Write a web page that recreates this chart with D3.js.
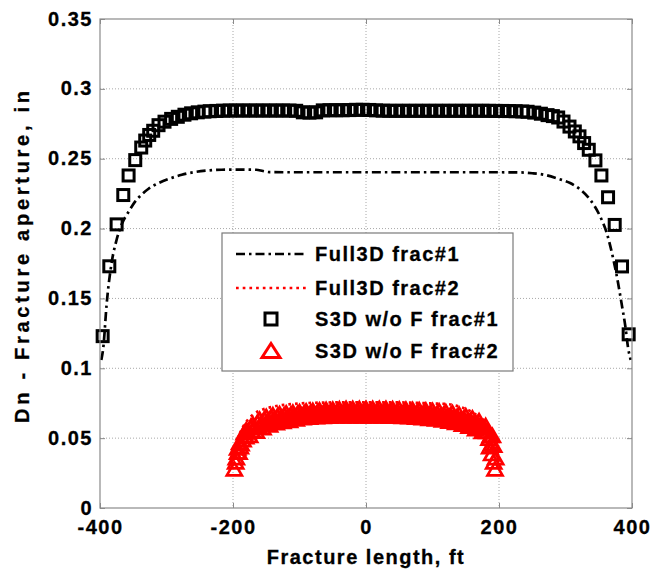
<!DOCTYPE html>
<html><head><meta charset="utf-8">
<script src="https://cdn.jsdelivr.net/npm/d3@7"></script>
<style>
body{margin:0;background:#fff;}
text{font-family:"Liberation Sans",Arial,sans-serif;font-weight:bold;fill:#000;stroke:#000;stroke-width:0.3px;}
</style></head>
<body><svg id="chart" width="652" height="574"></svg>
<script>
const xTicks = [-400,-200,0,200,400];
const xTickLabels = ["-400","-200","0","200","400"];
const yTicks = [0,0.05,0.1,0.15,0.2,0.25,0.3,0.35];
const yTickLabels = ["0","0.05","0.1","0.15","0.2","0.25","0.3","0.35"];
const seriesNames = ["Full3D frac#1","Full3D frac#2","S3D w/o F frac#1","S3D w/o F frac#2"];

const full3dFrac1X = [-398,-395,-390,-382,-375,-367,-357,-347,-337,-327,-312,-297,-277,-257,-237,-217,-190,-165,-155,-145,-100,-50,0,50,100,150,200,230,250,267,290,307,322,337,352,362,372,379,385,390,394,398];
const full3dFrac1Y = [0.106,0.115,0.146,0.177,0.192,0.2035,0.212,0.2195,0.2245,0.2285,0.2325,0.2355,0.2385,0.2405,0.2416,0.2421,0.2422,0.2421,0.2412,0.2404,0.2403,0.2403,0.2403,0.2403,0.2403,0.2403,0.2403,0.2402,0.2396,0.2386,0.2355,0.2326,0.2280,0.2207,0.2088,0.1969,0.1779,0.1612,0.1445,0.1300,0.1150,0.1060];

const full3dFrac2X = [-200,-197,-192,-185,-178,-168,-155,-140,-120,-100,-60,0,60,100,120,141,159,169,176,185,192,197,200];
const full3dFrac2Y = [0.030,0.040,0.050,0.058,0.063,0.0675,0.0705,0.0725,0.074,0.0748,0.0755,0.0757,0.0755,0.0748,0.0745,0.0724,0.0688,0.0652,0.0605,0.055,0.048,0.040,0.030];

const s3dFrac1X = [-396,-386,-375,-365,-357,-347,-338,-332,-326,-320,-312,-303,-293,-283,-273,-263,-253,-243,
  -235,-225,-215,-205,-195,-185,-175,-165,-155,-145,-135,-125,-115,-105,-95,-85,-75,-65,-55,-45,-35,-25,-15,-5,
  5,15,25,35,45,55,65,75,85,95,105,115,125,135,145,155,165,175,185,195,205,215,225,235,
  243,253,263,273,281,289,297,306,314,321,328,335,345,354,364,374,385,395];
const s3dFrac1Y = [0.123,0.173,0.203,0.224,0.238,0.249,0.258,0.263,0.267,0.270,0.274,0.2765,0.2785,0.2800,0.2815,0.2825,0.2832,0.2837,
  0.2840,0.2842,0.2844,0.2845,0.2845,0.2845,0.2845,0.2845,0.2845,0.2845,0.2845,0.2845,0.2845,0.2843,0.2832,0.2830,0.2832,0.2846,0.2847,0.2847,0.2847,0.2848,0.2850,0.2850,
  0.2849,0.2846,0.2844,0.2843,0.2843,0.2843,0.2843,0.2843,0.2843,0.2843,0.2843,0.2843,0.2843,0.2843,0.2843,0.2843,0.2843,0.2843,0.2843,0.2842,0.2842,0.2841,0.2840,0.2838,
  0.2836,0.2830,0.2822,0.2812,0.2805,0.2795,0.2766,0.2730,0.2695,0.2660,0.2612,0.2564,0.2488,0.2380,0.2224,0.2026,0.1729,0.1243];

const s3dFrac2X = [-198,-196,-193,-189,
  -195,-185,-175,-165,-155,-145,-135,-125,-115,-105,-95,-85,-75,-65,-55,-45,-35,-25,-15,-5,5,15,25,35,45,55,65,75,85,95,105,115,125,135,145,155,165,175,185,195,
  -191,-181,-171,-161,-151,-141,-131,-121,-111,-101,-91,-81,-71,-61,-51,-41,-31,-21,-11,-1,9,19,29,39,49,59,69,79,89,99,109,119,129,139,149,159,169,179,189,
  -188,-178,-168,-158,-148,-138,-128,-118,-108,-98,-88,-78,-68,-58,-48,-38,-28,-18,-8,2,12,22,32,42,52,62,72,82,92,102,112,122,132,142,152,162,172,182,192,
  -193,-183,-173,-163,-153,-143,-133,-123,-113,-103,-93,-83,-73,-63,-53,-43,-33,-23,-13,-3,7,17,27,37,47,57,67,77,87,97,107,117,127,137,147,157,167,177,187,
  -190,-180,-170,-160,-150,-140,-130,-120,-110,-100,-90,-80,-70,-60,-50,-40,-30,-20,-10,0,10,20,30,40,50,60,70,80,90,100,110,120,130,140,150,160,170,180,190,
  194,192,189,186];
const s3dFrac2Y = [0.028,0.033,0.040,0.044,
  0.036,0.049,0.052,0.055,0.0575,0.0595,0.061,0.062,0.0627,0.0638,0.0646,0.065,0.0654,0.0656,0.0658,0.0659,0.066,0.066,0.066,0.066,0.066,0.066,0.066,0.0658,0.0657,0.0655,0.0653,0.065,0.0646,0.0642,0.0637,0.063,0.0622,0.0612,0.060,0.0585,0.0568,0.0548,0.050,0.036,
  0.040,0.051,0.0555,0.058,0.0605,0.0618,0.063,0.0637,0.0644,0.0653,0.0658,0.0662,0.0666,0.0669,0.0671,0.0672,0.0673,0.0673,0.0674,0.0674,0.0674,0.0673,0.0672,0.0671,0.067,0.0668,0.0665,0.0662,0.0659,0.0655,0.0649,0.0642,0.0634,0.0623,0.061,0.0594,0.0575,0.055,0.046,
  0.046,0.0545,0.058,0.0605,0.0625,0.0638,0.0647,0.0653,0.066,0.0667,0.0672,0.0676,0.0679,0.0681,0.0683,0.0685,0.0686,0.0686,0.0687,0.0687,0.0687,0.0686,0.0685,0.0684,0.0682,0.068,0.0678,0.0675,0.0672,0.0668,0.0662,0.0655,0.0646,0.0635,0.062,0.0603,0.0582,0.0548,0.045,
  0.043,0.054,0.0585,0.0615,0.0637,0.0651,0.066,0.0667,0.0672,0.0677,0.0682,0.0687,0.069,0.0692,0.0695,0.0697,0.0699,0.07,0.07,0.07,0.07,0.07,0.0699,0.0698,0.0696,0.0694,0.0692,0.069,0.0687,0.0684,0.0679,0.0674,0.0666,0.0656,0.0643,0.0628,0.0608,0.058,0.052,
  0.047,0.056,0.060,0.0635,0.0655,0.0667,0.0675,0.0681,0.0686,0.069,0.0695,0.0699,0.0702,0.0705,0.0708,0.071,0.0712,0.0713,0.0713,0.0713,0.0713,0.0713,0.0712,0.0711,0.0709,0.0707,0.0705,0.0703,0.0701,0.0699,0.0695,0.069,0.0682,0.0672,0.066,0.0645,0.0625,0.059,0.052,
  0.028,0.033,0.039,0.044];

const zip = (a,b) => a.map((v,i)=>[v,b[i]]);

const svg = d3.select("#chart");
const L=100, R=632, T=19, B=508;
const x = d3.scaleLinear().domain([-400,400]).range([L,R]);
const y = d3.scaleLinear().domain([0,0.35]).range([B,T]);
const frameColor = "#8a8a8a";
const FONT = 20, LS = "1.5px";

// grid
const grid = svg.append("g");
grid.selectAll("line.gx").data(xTicks.slice(1,-1)).join("line")
  .attr("x1",d=>x(d)).attr("x2",d=>x(d)).attr("y1",T).attr("y2",B)
  .attr("stroke","#a8a8a8").attr("stroke-width",1).attr("stroke-dasharray","1,2");
grid.selectAll("line.gy").data(yTicks.slice(1,-1)).join("line")
  .attr("y1",d=>y(d)).attr("y2",d=>y(d)).attr("x1",L).attr("x2",R)
  .attr("stroke","#a8a8a8").attr("stroke-width",1).attr("stroke-dasharray","1,2");

// series
const line = d3.line().x(d=>x(d[0])).y(d=>y(d[1])).curve(d3.curveMonotoneX);
svg.append("path").datum(zip(full3dFrac1X,full3dFrac1Y)).attr("d",line)
  .attr("fill","none").attr("stroke","#000").attr("stroke-width",2.7).attr("stroke-dasharray","9,4,2.5,4");
svg.append("path").datum(zip(full3dFrac2X,full3dFrac2Y)).attr("d",line)
  .attr("fill","none").attr("stroke","#ff0000").attr("stroke-width",2.7).attr("stroke-dasharray","2.7,4");

const sq = 11;
svg.append("g").selectAll("rect").data(zip(s3dFrac1X,s3dFrac1Y)).join("rect")
  .attr("x",d=>x(d[0])-sq/2).attr("y",d=>y(d[1])-sq/2).attr("width",sq).attr("height",sq)
  .attr("fill","none").attr("stroke","#000").attr("stroke-width",3);

const triPath = "M0,-7L7.5,6L-7.5,6Z";
svg.append("g").selectAll("path").data(zip(s3dFrac2X,s3dFrac2Y)).join("path")
  .attr("d",triPath).attr("transform",d=>`translate(${x(d[0])},${y(d[1])+0.5})`)
  .attr("fill","none").attr("stroke","#ff0000").attr("stroke-width",2.7).attr("stroke-linejoin","miter");

// axes
const ax = svg.append("g");
const xAxis = d3.axisBottom(x).tickValues(xTicks).tickSize(-5).tickPadding(12).tickFormat((d,i)=>xTickLabels[i]);
const yAxis = d3.axisLeft(y).tickValues(yTicks).tickSize(-5).tickPadding(7).tickFormat((d,i)=>yTickLabels[i]);
const gx = ax.append("g").attr("transform",`translate(0,${B})`).call(xAxis);
const gy = ax.append("g").attr("transform",`translate(${L},0)`).call(yAxis);
const gx2 = ax.append("g").attr("transform",`translate(0,${T})`).call(d3.axisTop(x).tickValues(xTicks).tickSize(-5).tickFormat(""));
const gy2 = ax.append("g").attr("transform",`translate(${R},0)`).call(d3.axisRight(y).tickValues(yTicks).tickSize(-5).tickFormat(""));
[gx,gy,gx2,gy2].forEach(g=>{
  g.select(".domain").remove();
  g.selectAll(".tick line").attr("stroke",frameColor);
  g.selectAll("text").attr("font-size",FONT).attr("font-family",null).style("letter-spacing",LS).attr("fill","#000");
});
gy.selectAll(".tick text").attr("dy","0.3em");
svg.append("rect").attr("x",L).attr("y",T).attr("width",R-L).attr("height",B-T)
  .attr("fill","none").attr("stroke",frameColor).attr("stroke-width",1.2);

// axis titles
svg.append("text").attr("x",(L+R)/2).attr("y",564).attr("text-anchor","middle")
  .attr("font-size",FONT).style("letter-spacing",LS).text("Fracture length, ft");
svg.append("text").attr("transform","translate(29,257) rotate(-90)").attr("text-anchor","middle")
  .attr("font-size",FONT).attr("textLength",332).attr("lengthAdjust","spacing").text("Dn - Fracture aperture, in");

// legend
const lg = svg.append("g");
lg.append("rect").attr("x",222).attr("y",233).attr("width",291).attr("height",138)
  .attr("fill","#fff").attr("stroke","#7a7a7a").attr("stroke-width",1.2);
const rows = [254,288,319,351];
lg.append("line").attr("x1",236).attr("x2",307).attr("y1",rows[0]).attr("y2",rows[0])
  .attr("stroke","#000").attr("stroke-width",2.7).attr("stroke-dasharray","9,4,2.5,4");
lg.append("line").attr("x1",236).attr("x2",307).attr("y1",rows[1]).attr("y2",rows[1])
  .attr("stroke","#ff0000").attr("stroke-width",2.7).attr("stroke-dasharray","2.7,4");
lg.append("rect").attr("x",271-6).attr("y",rows[2]-6).attr("width",12).attr("height",12)
  .attr("fill","none").attr("stroke","#000").attr("stroke-width",3);
lg.append("path").attr("d","M0,-7.5L9,6.5L-9,6.5Z").attr("transform",`translate(271,${rows[3]})`)
  .attr("fill","none").attr("stroke","#ff0000").attr("stroke-width",3);
lg.selectAll("text").data(seriesNames).join("text")
  .attr("x",315).attr("y",(d,i)=>rows[i]).attr("dy","0.36em")
  .attr("font-size",FONT).style("letter-spacing",LS).text(d=>d);
</script></body></html>
